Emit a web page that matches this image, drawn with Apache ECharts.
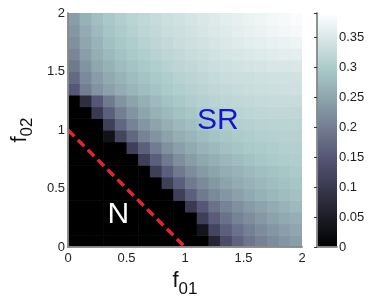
<!DOCTYPE html>
<html>
<head>
<meta charset="utf-8">
<script src="https://cdn.jsdelivr.net/npm/echarts@6/dist/echarts.min.js"></script>
<style>
  html, body { margin: 0; padding: 0; background: #fff; }
  #chart { width: 383px; height: 307px; }
</style>
</head>
<body>
<div id="chart"></div>
<script>
// cell centres on both axes (step 0.1)
const f01 = [0.05, 0.15, 0.25, 0.35, 0.45, 0.55, 0.65, 0.75, 0.85, 0.95,
             1.05, 1.15, 1.25, 1.35, 1.45, 1.55, 1.65, 1.75, 1.85, 1.95]
const f02 = [0.05, 0.15, 0.25, 0.35, 0.45, 0.55, 0.65, 0.75, 0.85, 0.95,
             1.05, 1.15, 1.25, 1.35, 1.45, 1.55, 1.65, 1.75, 1.85, 1.95]

// one row per f02 value, bottom row first
const level = [
  [0, 0, 0, 0, 0, 0, 0, 0, 0, 0, 0, 0, 0.065, 0.13, 0.165, 0.188, 0.204, 0.218, 0.23, 0.24],
  [0, 0, 0, 0, 0, 0, 0, 0, 0, 0, 0, 0.035, 0.12, 0.16, 0.185, 0.203, 0.218, 0.23, 0.24, 0.25],
  [0, 0, 0, 0, 0, 0, 0, 0, 0, 0, 0, 0.11, 0.155, 0.185, 0.205, 0.22, 0.233, 0.244, 0.254, 0.262],
  [0, 0, 0, 0, 0, 0, 0, 0, 0, 0, 0.1, 0.15, 0.185, 0.205, 0.222, 0.236, 0.248, 0.258, 0.266, 0.274],
  [0, 0, 0, 0, 0, 0, 0, 0, 0, 0.11, 0.16, 0.195, 0.215, 0.23, 0.243, 0.255, 0.265, 0.272, 0.279, 0.285],
  [0, 0, 0, 0, 0, 0, 0, 0, 0.11, 0.16, 0.195, 0.215, 0.232, 0.245, 0.256, 0.265, 0.273, 0.28, 0.286, 0.291],
  [0, 0, 0, 0, 0, 0, 0, 0.11, 0.16, 0.195, 0.218, 0.235, 0.248, 0.258, 0.267, 0.275, 0.282, 0.288, 0.293, 0.297],
  [0, 0, 0, 0, 0, 0, 0.11, 0.16, 0.195, 0.22, 0.238, 0.251, 0.262, 0.271, 0.279, 0.286, 0.292, 0.297, 0.301, 0.303],
  [0, 0, 0, 0, 0, 0.11, 0.16, 0.197, 0.222, 0.241, 0.255, 0.266, 0.275, 0.283, 0.29, 0.296, 0.3, 0.303, 0.306, 0.307],
  [0, 0, 0, 0.03, 0.12, 0.17, 0.205, 0.228, 0.246, 0.26, 0.27, 0.279, 0.287, 0.294, 0.299, 0.303, 0.306, 0.308, 0.31, 0.31],
  [0, 0, 0, 0.11, 0.17, 0.205, 0.23, 0.248, 0.262, 0.273, 0.282, 0.29, 0.297, 0.302, 0.306, 0.309, 0.312, 0.313, 0.314, 0.314],
  [0, 0, 0.1, 0.16, 0.2, 0.228, 0.248, 0.263, 0.275, 0.285, 0.293, 0.3, 0.306, 0.31, 0.314, 0.317, 0.319, 0.32, 0.321, 0.321],
  [0, 0.08, 0.15, 0.195, 0.225, 0.246, 0.262, 0.275, 0.286, 0.295, 0.302, 0.308, 0.313, 0.317, 0.321, 0.324, 0.326, 0.327, 0.328, 0.328],
  [0.15, 0.2, 0.225, 0.243, 0.258, 0.27, 0.28, 0.289, 0.297, 0.304, 0.31, 0.315, 0.32, 0.324, 0.327, 0.33, 0.332, 0.334, 0.335, 0.336],
  [0.175, 0.215, 0.238, 0.254, 0.267, 0.278, 0.288, 0.296, 0.303, 0.31, 0.316, 0.321, 0.326, 0.33, 0.333, 0.334, 0.336, 0.337, 0.338, 0.338],
  [0.195, 0.228, 0.25, 0.265, 0.277, 0.287, 0.296, 0.304, 0.311, 0.317, 0.322, 0.327, 0.332, 0.336, 0.339, 0.342, 0.344, 0.346, 0.347, 0.348],
  [0.21, 0.24, 0.26, 0.275, 0.286, 0.296, 0.304, 0.311, 0.318, 0.324, 0.329, 0.334, 0.339, 0.343, 0.347, 0.35, 0.353, 0.356, 0.358, 0.36],
  [0.222, 0.25, 0.268, 0.283, 0.294, 0.303, 0.311, 0.318, 0.324, 0.33, 0.335, 0.34, 0.345, 0.35, 0.354, 0.358, 0.362, 0.365, 0.368, 0.37],
  [0.232, 0.258, 0.276, 0.29, 0.3, 0.309, 0.317, 0.324, 0.33, 0.335, 0.34, 0.345, 0.35, 0.355, 0.36, 0.364, 0.368, 0.372, 0.376, 0.379],
  [0.24, 0.265, 0.282, 0.295, 0.305, 0.313, 0.32, 0.327, 0.333, 0.338, 0.343, 0.348, 0.353, 0.358, 0.363, 0.368, 0.372, 0.376, 0.38, 0.384],
]

// red dashed line f01 + f02 = 1
const lineF01 = [0, 1]
const lineF02 = [1, 0]

// region labels
const regionName = ['SR', 'N']
const regionF01 = [1.28, 0.43]
const regionF02 = [1.08, 0.28]

// colour bar range
const cbMin = 0
const cbMax = 0.39

// MATLAB "bone" colormap sampled at 9 even steps
const bone = ['#000000', '#1c1c27', '#38384d', '#545474', '#707a8f',
              '#8ba1ab', '#a7c7c7', '#d3e3e3', '#ffffff']

const font = "'Liberation Sans', Arial, sans-serif"
const frameColor = '#8a8a8a'

const cells = []
f02.forEach((y, j) => {
  f01.forEach((x, i) => {
    cells.push([x, y, level[j][i]])
  })
})
const half = (f01[1] - f01[0]) / 2

function renderCell(params, api) {
  const x = api.value(0)
  const y = api.value(1)
  const p0 = api.coord([x - half, y + half])
  const p1 = api.coord([x + half, y - half])
  return {
    type: 'rect',
    shape: { x: p0[0], y: p0[1], width: p1[0] - p0[0] + 0.6, height: p1[1] - p0[1] + 0.6 },
    style: { fill: api.visual('color') },
  }
}

function renderBar(params, api) {
  const lo = api.coord([0, api.value(0)])
  const hi = api.coord([1, api.value(1)])
  return {
    type: 'rect',
    shape: { x: lo[0], y: hi[1], width: hi[0] - lo[0], height: lo[1] - hi[1] },
    style: {
      fill: new echarts.graphic.LinearGradient(0, 1, 0, 0,
        bone.map((c, k) => ({ offset: k / (bone.length - 1), color: c }))),
    },
  }
}

const tickLabel = { fontSize: 13, color: '#222', fontFamily: font }
const nameRich = {
  f: { fontSize: 22, fontFamily: font, color: '#111' },
  s: { fontSize: 17, fontFamily: font, color: '#111', padding: [16, 0, 0, 0] },
}
const frameAxis = {
  axisLine: { show: true, lineStyle: { color: frameColor, width: 1.5 } },
  axisTick: { show: false },
  axisLabel: { show: false },
  splitLine: { show: false },
  z: 10,
}

const chart = echarts.init(document.getElementById('chart'))
chart.setOption({
  animation: false,
  grid: [
    { left: 68, top: 13, width: 234, height: 234 },
    { left: 317, top: 13, width: 20, height: 234 },
  ],
  visualMap: {
    show: false,
    type: 'continuous',
    min: cbMin,
    max: cbMax,
    dimension: 2,
    seriesIndex: 0,
    inRange: { color: bone },
  },
  xAxis: [
    {
      type: 'value', gridIndex: 0, min: 0, max: 2, interval: 0.5,
      axisLine: { show: true, lineStyle: { color: frameColor, width: 1.5 } },
      axisTick: { show: false },
      splitLine: { show: false },
      axisLabel: { ...tickLabel, margin: 5 },
      name: '{f|f}{s|01}',
      nameLocation: 'middle',
      nameGap: 13,
      nameTextStyle: { rich: nameRich, verticalAlign: 'top' },
      z: 10,
    },
    { type: 'value', gridIndex: 0, min: 0, max: 2, position: 'top', ...frameAxis },
    { type: 'value', gridIndex: 1, min: 0, max: 1, position: 'bottom', ...frameAxis },
    { type: 'value', gridIndex: 1, min: 0, max: 1, position: 'top', ...frameAxis },
  ],
  yAxis: [
    {
      type: 'value', gridIndex: 0, min: 0, max: 2, interval: 0.5,
      axisLine: { show: true, lineStyle: { color: frameColor, width: 1.5 } },
      axisTick: { show: false },
      splitLine: { show: false },
      axisLabel: { ...tickLabel, margin: 3 },
      name: '{f|f}{s|02}',
      nameLocation: 'middle',
      nameGap: 30,
      nameRotate: 90,
      nameTextStyle: { rich: nameRich },
      z: 10,
    },
    { type: 'value', gridIndex: 0, min: 0, max: 2, position: 'right', ...frameAxis },
    {
      type: 'value', gridIndex: 1, min: cbMin, max: cbMax, interval: 0.05, position: 'right',
      axisLine: { show: true, lineStyle: { color: frameColor, width: 1.5 } },
      axisTick: { show: true, inside: true, length: 3, lineStyle: { color: '#333' } },
      splitLine: { show: false },
      axisLabel: {
        ...tickLabel,
        margin: 2,
        formatter: v => (Math.abs(v * 20 - Math.round(v * 20)) < 1e-6 ? String(+v.toFixed(2)) : ''),
      },
      z: 10,
    },
    { type: 'value', gridIndex: 1, min: cbMin, max: cbMax, position: 'left', ...frameAxis },
  ],
  series: [
    {
      type: 'custom',
      xAxisIndex: 0,
      yAxisIndex: 0,
      renderItem: renderCell,
      encode: { x: 0, y: 1 },
      data: cells,
      clip: true,
      silent: true,
    },
    {
      type: 'line',
      xAxisIndex: 0,
      yAxisIndex: 0,
      data: lineF01.map((x, k) => [x, lineF02[k]]),
      symbol: 'none',
      lineStyle: { color: '#e3262b', width: 3.5, type: [9, 5] },
      z: 5,
      silent: true,
    },
    {
      type: 'scatter',
      xAxisIndex: 0,
      yAxisIndex: 0,
      data: [[regionF01[0], regionF02[0]]],
      symbolSize: 1,
      itemStyle: { color: 'rgba(0,0,0,0)', opacity: 1 },
      label: { show: true, position: 'inside', formatter: regionName[0], fontSize: 30, color: '#1414d2', opacity: 1, fontFamily: font },
      z: 6,
      silent: true,
    },
    {
      type: 'scatter',
      xAxisIndex: 0,
      yAxisIndex: 0,
      data: [[regionF01[1], regionF02[1]]],
      symbolSize: 1,
      itemStyle: { color: 'rgba(0,0,0,0)', opacity: 1 },
      label: { show: true, position: 'inside', formatter: regionName[1], fontSize: 30, color: '#ffffff', opacity: 1, fontFamily: font },
      z: 6,
      silent: true,
    },
    {
      type: 'custom',
      xAxisIndex: 2,
      yAxisIndex: 2,
      renderItem: renderBar,
      data: [[cbMin, cbMax]],
      silent: true,
    },
  ],
})
</script>
</body>
</html>
